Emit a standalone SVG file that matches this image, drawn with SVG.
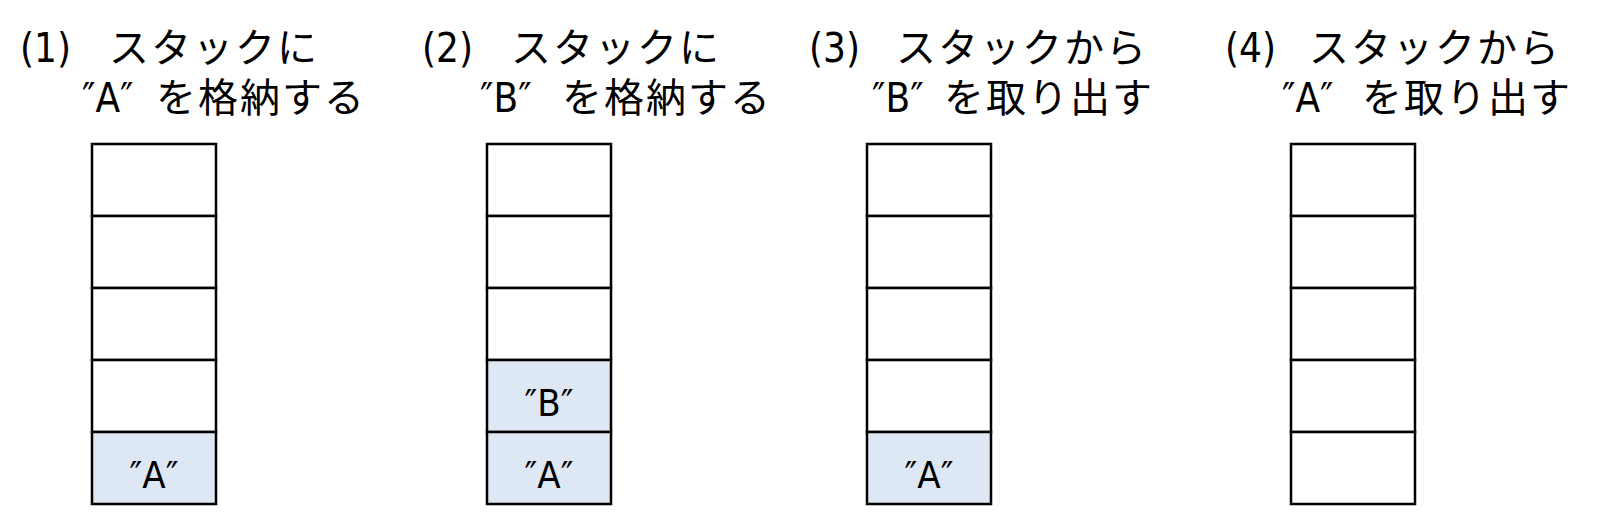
<svg xmlns="http://www.w3.org/2000/svg" width="1619" height="531" viewBox="0 0 1619 531">
<style>
text{font-family:"DejaVu Sans","Noto Sans CJK JP",sans-serif;fill:#000}
.t{font-size:40px}
.k{letter-spacing:2px}
.n{font-stretch:condensed}
.v{font-size:38px;text-anchor:middle;font-stretch:condensed}
.c{fill:#fff;stroke:#000;stroke-width:2.5}
.f{fill:#dee8f4;stroke:#000;stroke-width:2.5}
</style>
<rect width="1619" height="531" fill="#fff"/>
<g id="step1">
<text class="t" y="62"><tspan class="n" x="20">(1)</tspan><tspan class="k" x="109">スタックに</tspan></text>
<text class="t" y="112"><tspan class="n" x="82">″A″</tspan><tspan class="k" x="156">を格納する</tspan></text>
<rect class="c" x="92" y="144" width="124" height="72"/>
<rect class="c" x="92" y="216" width="124" height="72"/>
<rect class="c" x="92" y="288" width="124" height="72"/>
<rect class="c" x="92" y="360" width="124" height="72"/>
<rect class="f" x="92" y="432" width="124" height="72"/>
<text class="v" x="154" y="488">″A″</text>
</g>
<g id="step2">
<text class="t" y="62"><tspan class="n" x="422">(2)</tspan><tspan class="k" x="511">スタックに</tspan></text>
<text class="t" y="112"><tspan class="n" x="480">″B″</tspan><tspan class="k" x="562">を格納する</tspan></text>
<rect class="c" x="487" y="144" width="124" height="72"/>
<rect class="c" x="487" y="216" width="124" height="72"/>
<rect class="c" x="487" y="288" width="124" height="72"/>
<rect class="f" x="487" y="360" width="124" height="72"/>
<rect class="f" x="487" y="432" width="124" height="72"/>
<text class="v" x="549" y="416">″B″</text>
<text class="v" x="549" y="488">″A″</text>
</g>
<g id="step3">
<text class="t" y="62"><tspan class="n" x="809">(3)</tspan><tspan class="k" x="896">スタックから</tspan></text>
<text class="t" y="112"><tspan class="n" x="872">″B″</tspan><tspan class="k" x="944">を取り出す</tspan></text>
<rect class="c" x="867" y="144" width="124" height="72"/>
<rect class="c" x="867" y="216" width="124" height="72"/>
<rect class="c" x="867" y="288" width="124" height="72"/>
<rect class="c" x="867" y="360" width="124" height="72"/>
<rect class="f" x="867" y="432" width="124" height="72"/>
<text class="v" x="929" y="488">″A″</text>
</g>
<g id="step4">
<text class="t" y="62"><tspan class="n" x="1225">(4)</tspan><tspan class="k" x="1309">スタックから</tspan></text>
<text class="t" y="112"><tspan class="n" x="1282">″A″</tspan><tspan class="k" x="1362">を取り出す</tspan></text>
<rect class="c" x="1291" y="144" width="124" height="72"/>
<rect class="c" x="1291" y="216" width="124" height="72"/>
<rect class="c" x="1291" y="288" width="124" height="72"/>
<rect class="c" x="1291" y="360" width="124" height="72"/>
<rect class="c" x="1291" y="432" width="124" height="72"/>
</g>
<g id="connectors"></g>
</svg>
